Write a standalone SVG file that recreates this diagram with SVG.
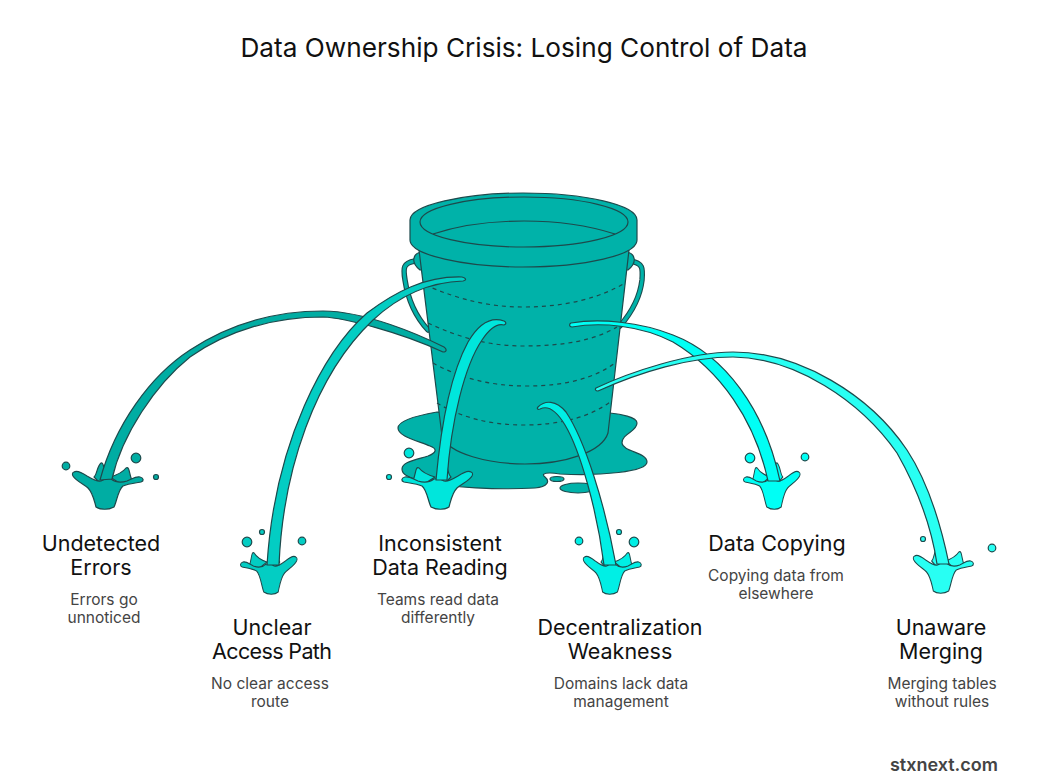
<svg xmlns="http://www.w3.org/2000/svg" width="1038" height="780" viewBox="0 0 1038 780">
<style>
text{font-family:Inter,"Open Sans","Liberation Sans",sans-serif;text-anchor:middle}
.t{font-size:26.2px;fill:#111}
.h{font-size:21.5px;fill:#111}
.d{font-size:15.5px;fill:#444}
.e{stroke:#1d4a4c;stroke-width:1.2;stroke-linejoin:round}
.b{fill:#00b2a9}
.dash{fill:none;stroke:#1d4a4c;stroke-width:1.2;stroke-dasharray:4 4}
.c1{fill:#00ada3}.c2{fill:#03cdc3}.c3{fill:#00e6dc}.c4{fill:#00efe5}.c5{fill:#00fff5}.c6{fill:#28fff3}
</style>
<defs>
<g id="splash" class="e">
<path d="M-11,-3 C-8,-5 -8,-14 -4,-17 C-1,-18 -1,-10 1,2 L-5,3Z"/>
<path d="M5,-3 C12,-5 18,-8 21,-12 C25,-14 24,-5 27,0 L16,4Z"/>
<path d="M-31,-8 C-28,-10 -24,-8 -18,-4 C-13,-1 -8,2 -4,1 C-1,-1 3,-2 6,-1 C10,2 16,3 22,1 C27,-1 31,-4 35,-3 C39,-2 39,1 36,2 C30,3 22,4 18,6 C13,10 12,21 9,27 C4,30 -5,30 -9,27 C-11,20 -12,13 -17,8 C-21,4 -29,1 -32,-4 C-33,-6 -33,-7 -31,-8Z"/>
</g>
</defs>
<text class="t" x="524" y="57">Data Ownership Crisis: Losing Control of Data</text>

<g id="bucket">
<path class="e b" d="M437,412 C420,415 398,420 398,428 C398,436 415,440 430,446 C438,449 436,453 428,456 C415,460 402,462 402,469 C402,476 412,478 420,481 C450,488 500,490 535,488 C548,487 550,481 545,477 C540,473 548,472 560,474 C600,476 647,472 647,462 C647,452 623,452 622,443 C622,433 637,432 637,423 C637,417 620,414 610,413Z"/>
<ellipse class="e b" cx="557" cy="479" rx="7" ry="2.5"/>
<ellipse class="e b" cx="578" cy="488" rx="18" ry="5"/>
<path d="M415,261 C403,263 403,268 405,280 C408,300 417,318 428,330" fill="none" stroke="#1d4a4c" stroke-width="5.5" stroke-linecap="round"/>
<path d="M415,261 C403,263 403,268 405,280 C408,300 417,318 428,330" fill="none" stroke="#00b2a9" stroke-width="3.3" stroke-linecap="round"/>
<path d="M630,261 C643,263 643,268 642,280 C640,298 632,312 620,326" fill="none" stroke="#1d4a4c" stroke-width="5.5" stroke-linecap="round"/>
<path d="M630,261 C643,263 643,268 642,280 C640,298 632,312 620,326" fill="none" stroke="#00b2a9" stroke-width="3.3" stroke-linecap="round"/>
<path class="e b" d="M421,252 C412,254 411,263 420,270 L422,270Z"/>
<path class="e b" d="M627,252 C636,254 637,263 628,270 L626,270Z"/>
<path class="e b" d="M419,250 L442,436 C448,454 490,464 525,464 C565,464 602,452 608,433 L629,250Z"/>
<path class="dash" d="M425,285 C460,300 490,307 523,307 C565,307 600,298 625,283"/>
<path class="dash" d="M428,323 C460,338 490,346 523,346 C565,346 595,340 617,327"/>
<path class="dash" d="M433,363 C460,378 490,386 527,386 C565,386 595,378 615,363"/>
<path class="dash" d="M437,403 C460,417 490,425 523,425 C560,425 590,417 610,402"/>
<path class="e b" d="M410,220 C410,205 465,193 523,193 C585,193 637,205 637,220 L637,240 C637,255 585,267 523,267 C465,267 410,255 410,240Z"/>
<ellipse class="e b" cx="524" cy="222" rx="104" ry="25"/>
<path class="e" fill="none" d="M433,234 C460,225 490,221 524,221 C560,221 590,226 615,234"/>
</g>

<g id="node-undetected-errors">
<use href="#splash" x="105" y="480" class="c1"/>
<g class="c1 e"><circle cx="66" cy="466" r="3.8"/><circle cx="136" cy="458" r="4.8"/><circle cx="156" cy="477" r="2.5"/></g>
<text class="h" x="101" y="551">Undetected</text><text class="h" x="101" y="575">Errors</text>
<text class="d" x="104" y="605">Errors go</text><text class="d" x="104" y="623">unnoticed</text>
</g>
<g id="node-unclear-access-path">
<use href="#splash" transform="translate(271 565) scale(-.8 1)" class="c2"/>
<g class="c2 e"><circle cx="247" cy="542" r="4.8"/><circle cx="262" cy="532" r="2.5"/><circle cx="302" cy="541" r="3.8"/></g>
<text class="h" x="272" y="635">Unclear</text><text class="h" x="272" y="659" textLength="120">Access Path</text>
<text class="d" x="270" y="689">No clear access</text><text class="d" x="270" y="707">route</text>
</g>
<g id="node-inconsistent-data-reading">
<use href="#splash" transform="translate(440 480) scale(-1 1)" class="c3"/>
<g class="c3 e"><circle cx="409" cy="453" r="4.8"/><circle cx="389" cy="477" r="2.5"/></g>
<text class="h" x="440" y="551">Inconsistent</text><text class="h" x="440" y="575">Data Reading</text>
<text class="d" x="438" y="605">Teams read data</text><text class="d" x="438" y="623">differently</text>
</g>
<g id="node-decentralization-weakness">
<use href="#splash" transform="translate(610 565) scale(.82 1)" class="c4"/>
<g class="c4 e"><circle cx="579" cy="541" r="3.8"/><circle cx="619" cy="532" r="2.5"/><circle cx="634" cy="542" r="4.8"/></g>
<text class="h" x="620" y="635">Decentralization</text><text class="h" x="620" y="659">Weakness</text>
<text class="d" x="621" y="689">Domains lack data</text><text class="d" x="621" y="707">management</text>
</g>
<g id="node-data-copying">
<use href="#splash" transform="translate(774 480) scale(-.8 1)" class="c5"/>
<g class="c5 e"><circle cx="750" cy="458" r="4.8"/><circle cx="805" cy="457" r="3.8"/></g>
<text class="h" x="777" y="551">Data Copying</text>
<text class="d" x="776" y="581">Copying data from</text><text class="d" x="776" y="599">elsewhere</text>
</g>
<g id="node-unaware-merging">
<use href="#splash" transform="translate(941 564) scale(.85 1)" class="c6"/>
<g class="c6 e"><circle cx="923" cy="539" r="2.5"/><circle cx="992" cy="548" r="3.8"/></g>
<text class="h" x="941" y="635">Unaware</text><text class="h" x="941" y="659">Merging</text>
<text class="d" x="942" y="689">Merging tables</text><text class="d" x="942" y="707">without rules</text>
</g>

<g id="connectors" class="e">
<path class="c1" d="M444,347 C420,335 365,311 323,311 C270,311 225,327 190,350 C150,376 115,425 100,480 L112,479 C122,435 155,385 190,357 C228,330 275,317 323,317 C345,318 400,332 443,352 C447,352 447,349 444,347Z"/>
<path class="c2" d="M462,277 C425,276 395,292 367,313 C325,350 275,440 267,565 L279,565 C283,470 315,375 373,320 C400,295 430,282 463,281 C467,280 466,278 462,277Z"/>
<path class="c3" d="M504,321 C490,316 478,325 468,342 C450,375 441,425 436,480 L447,480 C451,420 465,365 482,340 C490,328 497,323 504,325 C507,324 506,322 504,321Z"/>
<path class="c4" d="M538,407 C545,400 556,400 566,412 C585,440 605,505 616,565 L604,565 C597,510 580,450 565,425 C556,410 548,405 540,409 C537,410 537,408 538,407Z"/>
<path class="c5" d="M571,323 C600,318 640,322 673,335 C725,355 765,410 780,481 L768,481 C755,420 720,370 673,342 C640,325 600,322 572,327 C569,327 569,324 571,323Z"/>
<path class="c6" d="M596,388 C630,372 690,352 733,352 C800,352 870,395 907,450 C930,485 942,530 949,564 L937,564 C932,530 918,490 897,453 C860,400 795,358 733,357 C690,357 640,372 598,391 C595,391 595,389 596,388Z"/>
</g>
<text x="944" y="771" style="font-size:18px;font-weight:600;fill:#444">stxnext.com</text>
</svg>
